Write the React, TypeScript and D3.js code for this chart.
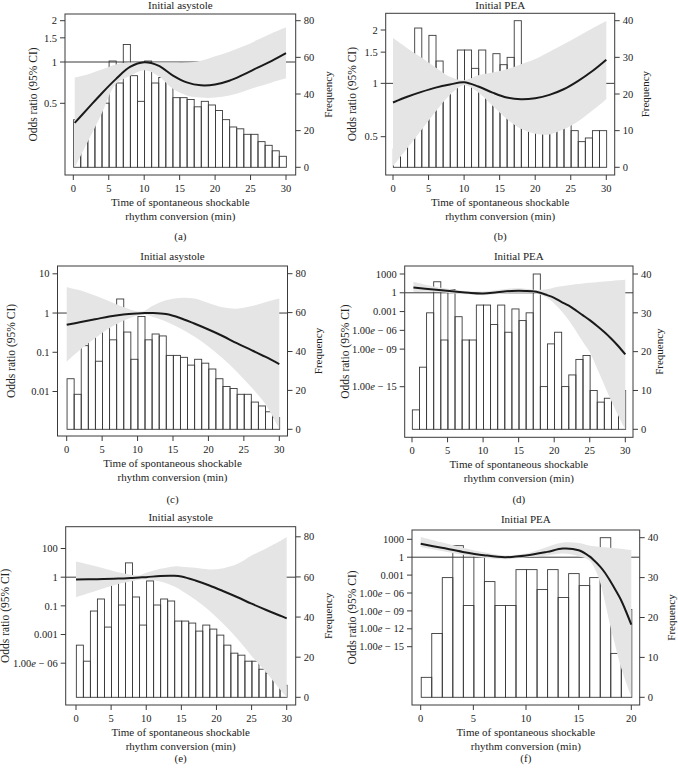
import React from "react";
import * as d3 from "d3";

// ---------------- DATA ----------------
// Histogram counts (bins of 1 min)
const asystoleCounts = [26, 18, 43, 49, 35, 58, 46, 67, 50, 36, 58, 46, 49, 48, 38, 38, 37, 33, 36, 34, 31, 26, 22, 21, 18, 18, 14, 12, 9, 6];
const peaCounts = [5, 16, 30, 38, 23, 36, 29, 23, 23, 32, 32, 27, 32, 25, 31, 28, 30, 40, 11, 22, 25, 11, 14, 18, 19, 10, 7, 8, 10, 10];
const peaCounts20 = [5, 16, 30, 38, 23, 36, 29, 23, 23, 32, 32, 27, 32, 25, 31, 28, 30, 40, 11, 22];
const binStart = 0.05;
const binWidth = 1;

// Panel (a) – odds ratio curve and 95% CI
const aX = [0.2, 2, 4, 6, 8, 10, 12, 14, 16, 18, 20, 22, 24, 26, 28, 30];
const aOR = [0.36, 0.455, 0.59, 0.75, 0.92, 0.995, 0.94, 0.8, 0.71, 0.676, 0.685, 0.73, 0.81, 0.91, 1.02, 1.16];
const aUpper = [0.77, 0.81, 0.88, 0.96, 0.99, 0.99, 0.99, 0.99, 0.99, 1.02, 1.1, 1.19, 1.3, 1.45, 1.62, 1.79];
const aLower = [0.17, 0.26, 0.42, 0.69, 0.79, 0.87, 0.79, 0.64, 0.57, 0.55, 0.55, 0.57, 0.61, 0.66, 0.71, 0.76];

// Panel (b)
const bX = [0, 2, 4, 6, 8, 10, 12, 14, 16, 18, 20, 22, 24, 26, 28, 30];
const bOR = [0.78, 0.84, 0.895, 0.946, 0.985, 1.015, 0.96, 0.887, 0.832, 0.814, 0.825, 0.861, 0.926, 1.03, 1.17, 1.36];
const bUpper = [1.8, 1.58, 1.4, 1.23, 1.09, 1.04, 1.11, 1.15, 1.2, 1.28, 1.37, 1.51, 1.66, 1.84, 2.04, 2.25];
const bLower = [0.34, 0.43, 0.545, 0.693, 0.86, 0.975, 0.887, 0.747, 0.63, 0.554, 0.52, 0.515, 0.55, 0.61, 0.7, 0.814];

// Panel (c)
const cX = [0, 2, 4, 6, 8, 10, 11, 12, 14, 16, 18, 20, 22, 24, 26, 28, 30];
const cOR = [0.5, 0.59, 0.69, 0.82, 0.92, 0.98, 1.0, 1.0, 0.94, 0.75, 0.54, 0.38, 0.26, 0.17, 0.115, 0.077, 0.05];
const cUpper = [4.55, 3.74, 2.78, 1.99, 1.43, 1.1, 1.15, 1.48, 2.11, 2.42, 2.33, 1.8, 1.4, 1.29, 1.48, 1.88, 2.33];
const cLower = [0.058, 0.122, 0.229, 0.412, 0.636, 0.871, 0.906, 0.82, 0.611, 0.412, 0.252, 0.14, 0.07, 0.032, 0.0132, 0.0049, 0.00113];

// Panel (d) – log10 odds ratio
const dX = [0.2, 3, 6, 8, 10, 12, 14, 16, 17.5, 19, 20, 21, 22, 23, 24, 25, 26, 27, 28, 29, 30];
const dLogOR = [0.85, 0.53, 0.21, 0.0, -0.1, 0.1, 0.3, 0.3, 0.15, -0.37, -0.8, -1.44, -2.02, -2.77, -3.57, -4.37, -5.27, -6.23, -7.3, -8.5, -9.85];
const dLogUpper = [1.75, 1.0, 0.5, 0.25, 0.2, 0.45, 0.7, 0.65, 0.45, 0.55, 0.85, 1.05, 1.2, 1.35, 1.5, 1.6, 1.7, 1.8, 1.9, 2.0, 2.1];
const dLogLower = [0.1, 0.15, -0.1, -0.25, -0.4, -0.2, 0.0, 0.0, -0.1, -0.8, -1.7, -2.9, -4.3, -6.0, -7.8, -9.5, -12.0, -14.6, -17.2, -19.6, -21.8];

// Panel (e) – log10 odds ratio (axis positions)
const eX = [0, 3, 6, 8, 9, 10, 12, 14, 15, 17, 19, 21, 23, 25, 27, 29, 30];
const eLogOR = [-0.16, -0.14, -0.1, -0.05, -0.02, 0.0, 0.09, 0.1, 0.05, -0.23, -0.58, -0.98, -1.4, -1.85, -2.27, -2.67, -2.87];
const eLogUpper = [1.1, 0.75, 0.35, 0.16, 0.12, 0.3, 0.58, 0.75, 0.73, 0.65, 0.54, 0.63, 0.93, 1.52, 1.99, 2.5, 2.8];
const eLogLower = [-1.4, -0.93, -0.47, -0.28, -0.18, -0.17, -0.3, -0.65, -0.93, -1.57, -2.34, -3.27, -4.32, -5.49, -6.6, -7.8, -8.4];

// Panel (f) – log10 odds ratio
const fX = [0, 2, 4, 6, 8, 10, 12, 13.5, 15, 16, 16.5, 17, 17.5, 18, 18.5, 19, 19.5, 20];
const fLogOR = [2.24, 1.57, 0.89, 0.34, 0.0, 0.28, 0.89, 1.45, 1.17, 0.17, -0.6, -1.5, -2.6, -4.0, -5.5, -7.1, -9.1, -11.3];
const fLogUpper = [3.4, 2.5, 1.6, 0.84, 0.3, 0.6, 1.73, 2.45, 2.4, 1.96, 1.85, 1.73, 1.65, 1.57, 1.5, 1.4, 1.3, 1.2];
const fLogLower = [1.73, 1.05, 0.4, -0.11, -0.35, 0.0, 0.3, 0.6, 0.17, -0.5, -1.8, -4.0, -7.5, -11.5, -15.0, -18.3, -21.0, -23.4];

// Tick values / labels
const xTicks30 = [0, 5, 10, 15, 20, 25, 30];
const xTicks20 = [0, 5, 10, 15, 20];
const freqTicks80 = [0, 20, 40, 60, 80];
const freqTicks40 = [0, 10, 20, 30, 40];
const orTicksAB = [0.5, 1, 1.5, 2];
const orLabelsAB = ["0.5", "1", "1.5", "2"];
const orTicksC = [10, 1, 0.1, 0.01];
const orLabelsC = ["10", "1", "0.1", "0.01"];
const orTicksD = [1e3, 1, 1e-3, 1e-6, 1e-9, 1e-15];
const orLabelsD = ["1000", "1", "0.001", "1.00e-06", "1.00e-09", "1.00e-15"];
const orTicksE = [1e2, 1, 1e-2, 1e-4, 1e-6];
const orLabelsE = ["100", "1", "0.1", "0.001", "1.00e-06"];
const orTicksF = [1e3, 1, 1e-3, 1e-6, 1e-9, 1e-12, 1e-15];
const orLabelsF = ["1000", "1", "0.001", "1.00e-06", "1.00e-09", "1.00e-12", "1.00e-15"];

const titleAsystole = "Initial asystole";
const titlePEA = "Initial PEA";
const xTitle1 = "Time of spontaneous shockable";
const xTitle2 = "rhythm conversion (min)";
const yTitleLeft = "Odds ratio (95% CI)";
const yTitleRight = "Frequency";

// ---------------- LAYOUT ----------------
const FONT = "'Liberation Serif', 'DejaVu Serif', 'Times New Roman', serif";
const TXT = "#222";
const AX = "#3a3a3a";

const toOR = (v: number[]) => v.map((d) => Math.pow(10, d));

const panels = [
  {
    id: "a", caption: "(a)", captionY: 239.5, title: titleAsystole, titleY: 8.5,
    box: { l: 65, r: 295.7, t: 14, b: 175 },
    xRef: [0, 30], xPx: [73.3, 286], xTicks: xTicks30,
    yRef: [0.5, 2], yPx: [103.3, 20.7], yTicks: orTicksAB, yLabels: orLabelsAB,
    fMax: 80, fPx: [167.3, 20.7], fTicks: freqTicks80,
    counts: asystoleCounts, xs: aX, or: aOR, hi: aUpper, lo: aLower,
    yTitleX: 36.5, fTitleX: 331.5,
  },
  {
    id: "b", caption: "(b)", captionY: 239.5, title: titlePEA, titleY: 8.5,
    box: { l: 385.7, r: 614.7, t: 13.3, b: 175 },
    xRef: [0, 30], xPx: [393, 606.3], xTicks: xTicks30,
    yRef: [0.5, 2], yPx: [136.7, 30], yTicks: orTicksAB, yLabels: orLabelsAB,
    fMax: 40, fPx: [167.3, 20.7], fTicks: freqTicks40,
    counts: peaCounts, xs: bX, or: bOR, hi: bUpper, lo: bLower,
    yTitleX: 356, fTitleX: 648.5,
  },
  {
    id: "c", caption: "(c)", captionY: 502.5, title: titleAsystole, titleY: 259.5,
    box: { l: 57.5, r: 287.5, t: 266, b: 436 },
    xRef: [0, 30], xPx: [66.7, 279.3], xTicks: xTicks30,
    yRef: [10, 0.01], yPx: [273.8, 391.5], yTicks: orTicksC, yLabels: orLabelsC,
    fMax: 80, fPx: [429.3, 273.7], fTicks: freqTicks80,
    counts: asystoleCounts, xs: cX, or: cOR, hi: cUpper, lo: cLower,
    yTitleX: 15, fTitleX: 321.5,
  },
  {
    id: "d", caption: "(d)", captionY: 502.5, title: titlePEA, titleY: 259.5,
    box: { l: 404.7, r: 633, t: 266, b: 437.3 },
    xRef: [0, 30], xPx: [412, 625.3], xTicks: xTicks30,
    yRef: [1e3, 1e-15], yPx: [274, 386.7], yTicks: orTicksD, yLabels: orLabelsD,
    fMax: 40, fPx: [429.3, 274], fTicks: freqTicks40,
    counts: peaCounts, xs: dX, or: toOR(dLogOR), hi: toOR(dLogUpper), lo: toOR(dLogLower),
    yTitleX: 349, fTitleX: 663,
  },
  {
    id: "e", caption: "(e)", captionY: 761.5, title: titleAsystole, titleY: 520.5,
    box: { l: 65.7, r: 295.7, t: 526.7, b: 705 },
    xRef: [0, 30], xPx: [76, 286.7], xTicks: xTicks30,
    yRef: [1e2, 1e-6], yPx: [548.5, 663.2], yTicks: orTicksE, yLabels: orLabelsE,
    fMax: 80, fPx: [697.3, 536.8], fTicks: freqTicks80,
    counts: asystoleCounts, xs: eX, or: toOR(eLogOR), hi: toOR(eLogUpper), lo: toOR(eLogLower),
    yTitleX: 9, fTitleX: 331.5,
  },
  {
    id: "f", caption: "(f)", captionY: 761.5, title: titlePEA, titleY: 523,
    box: { l: 412, r: 639.7, t: 530, b: 705 },
    xRef: [0, 20], xPx: [420.7, 631.3], xTicks: xTicks20,
    yRef: [1e3, 1e-15], yPx: [539.3, 646.7], yTicks: orTicksF, yLabels: orLabelsF,
    fMax: 40, fPx: [697.3, 537.7], fTicks: freqTicks40,
    counts: peaCounts20, xs: fX, or: toOR(fLogOR), hi: toOR(fLogUpper), lo: toOR(fLogLower),
    yTitleX: 356, fTitleX: 674.5,
  },
];

function TickLabel({ label, x, y, anchor }: { label: string; x: number; y: number; anchor: string }) {
  const m = label.match(/^(1\.00)e-(\d+)$/);
  if (m) {
    return (
      <text x={x} y={y} dy="0.35em" textAnchor={anchor} fontSize={10.5} fontFamily={FONT} fill={TXT}>
        {m[1]}
        <tspan fontStyle="italic">e</tspan>
        {" \u2212 " + m[2]}
      </text>
    );
  }
  return (
    <text x={x} y={y} dy="0.35em" textAnchor={anchor} fontSize={10.5} fontFamily={FONT} fill={TXT}>
      {label}
    </text>
  );
}

function Panel({ p }: { p: any }) {
  const { box } = p;
  const x = d3.scaleLinear().domain(p.xRef).range(p.xPx);
  const y = d3.scaleLog().domain(p.yRef).range(p.yPx);
  const f = d3.scaleLinear().domain([0, p.fMax]).range(p.fPx);

  const pts = p.xs.map((xv: number, i: number) => ({ x: xv, or: p.or[i], lo: p.lo[i], hi: p.hi[i] }));
  const band = d3
    .area<any>()
    .x((d) => x(d.x))
    .y0((d) => y(d.lo))
    .y1((d) => y(d.hi))
    .curve(d3.curveCatmullRom.alpha(0.5))(pts);
  const line = d3
    .line<any>()
    .x((d) => x(d.x))
    .y((d) => y(d.or))
    .curve(d3.curveCatmullRom.alpha(0.5))(pts);

  const clipId = "clip-" + p.id;
  const cx = (box.l + box.r) / 2;
  const cy = (box.t + box.b) / 2;

  return (
    <g>
      <defs>
        <clipPath id={clipId}>
          <rect x={box.l} y={box.t} width={box.r - box.l} height={box.b - box.t} />
        </clipPath>
      </defs>
      <g clipPath={`url(#${clipId})`}>
        {p.counts.map((c: number, i: number) => {
          const x0 = x(binStart + i * binWidth);
          const x1 = x(binStart + (i + 1) * binWidth);
          return (
            <rect key={i} x={x0} y={f(c)} width={x1 - x0} height={f(0) - f(c)} fill="none" stroke={AX} strokeWidth={0.9} />
          );
        })}
        <line x1={box.l} x2={box.r} y1={y(1)} y2={y(1)} stroke={AX} strokeWidth={1} />
        <path d={band || ""} fill="#e4e5e4" stroke="none" />
        <path d={line || ""} fill="none" stroke="#1a1a1a" strokeWidth={2} />
      </g>
      <rect x={box.l} y={box.t} width={box.r - box.l} height={box.b - box.t} fill="none" stroke={AX} strokeWidth={1} />

      {/* left axis */}
      {p.yTicks.map((t: number, i: number) => (
        <g key={"yl" + i}>
          <line x1={box.l - 5} x2={box.l} y1={y(t)} y2={y(t)} stroke={AX} strokeWidth={1} />
          <TickLabel label={p.yLabels[i]} x={box.l - 8} y={y(t)} anchor="end" />
        </g>
      ))}
      {/* right axis */}
      {p.fTicks.map((t: number, i: number) => (
        <g key={"yr" + i}>
          <line x1={box.r} x2={box.r + 5} y1={f(t)} y2={f(t)} stroke={AX} strokeWidth={1} />
          <TickLabel label={String(t)} x={box.r + 8} y={f(t)} anchor="start" />
        </g>
      ))}
      {/* bottom axis */}
      {p.xTicks.map((t: number, i: number) => (
        <g key={"x" + i}>
          <line x1={x(t)} x2={x(t)} y1={box.b} y2={box.b + 5} stroke={AX} strokeWidth={1} />
          <text x={x(t)} y={box.b + 16.5} textAnchor="middle" fontSize={10.5} fontFamily={FONT} fill={TXT}>
            {t}
          </text>
        </g>
      ))}

      <text x={cx} y={p.titleY} textAnchor="middle" fontSize={11} fontFamily={FONT} fill={TXT}>
        {p.title}
      </text>
      <text x={cx} y={box.b + 30.5} textAnchor="middle" fontSize={11} fontFamily={FONT} fill={TXT}>
        {xTitle1}
      </text>
      <text x={cx} y={box.b + 44.5} textAnchor="middle" fontSize={11} fontFamily={FONT} fill={TXT}>
        {xTitle2}
      </text>
      <text
        transform={`translate(${p.yTitleX},${cy}) rotate(-90)`}
        textAnchor="middle"
        fontSize={11.5}
        fontFamily={FONT}
        fill={TXT}
      >
        {yTitleLeft}
      </text>
      <text
        transform={`translate(${p.fTitleX},${cy}) rotate(-90)`}
        textAnchor="middle"
        fontSize={11}
        fontFamily={FONT}
        fill={TXT}
      >
        {yTitleRight}
      </text>
      <text x={cx} y={p.captionY} textAnchor="middle" fontSize={11} fontFamily={FONT} fill={TXT}>
        {p.caption}
      </text>
    </g>
  );
}

export default function App() {
  return (
    <svg width={678} height={772} viewBox="0 0 678 772" style={{ display: "block", position: "absolute", left: 0, top: 0, background: "#fff" }}>
      <rect x={0} y={0} width={678} height={772} fill="#fff" />
      {panels.map((p) => (
        <Panel key={p.id} p={p} />
      ))}
    </svg>
  );
}
